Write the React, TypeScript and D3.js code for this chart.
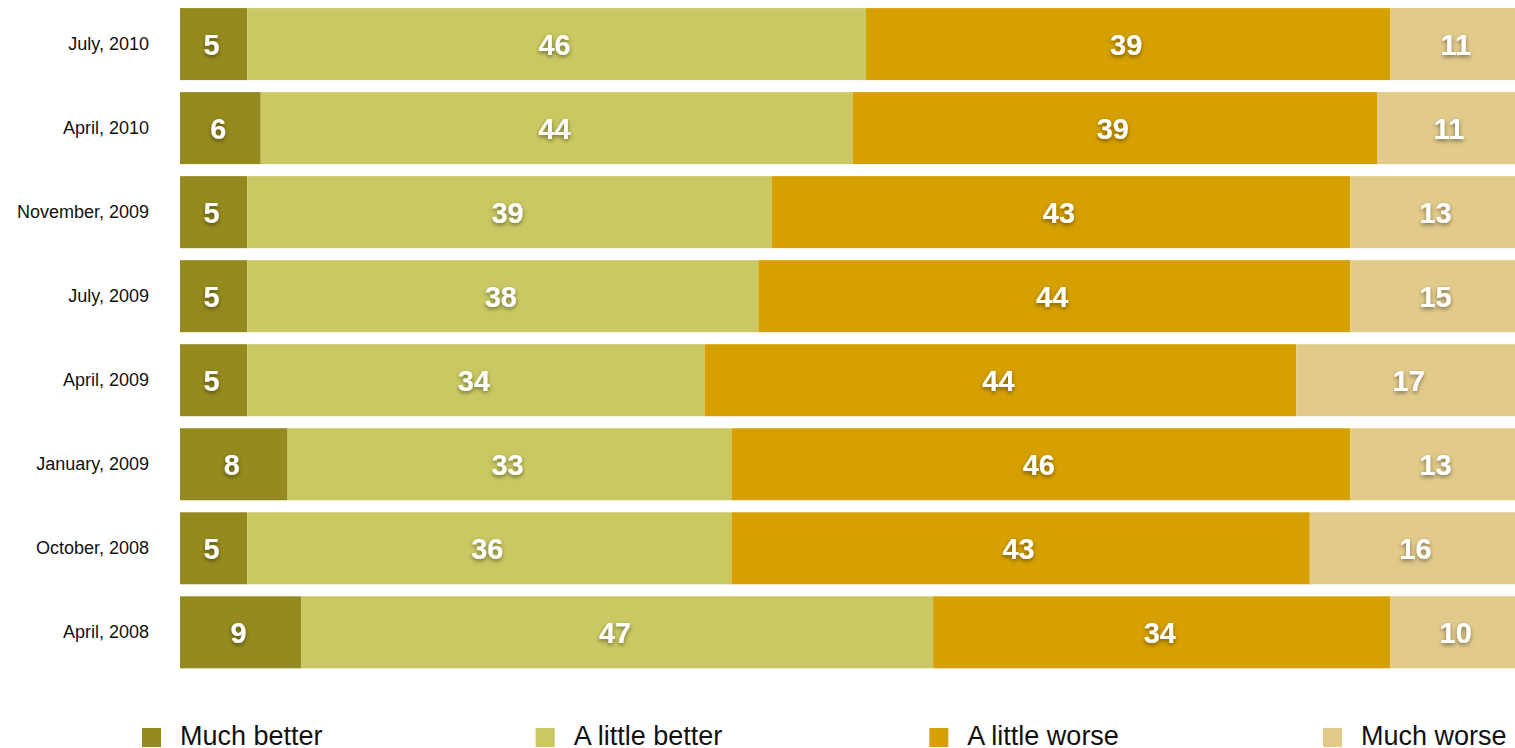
import React from "react";
import * as d3 from "d3";

const categories = ["July, 2010", "April, 2010", "November, 2009", "July, 2009", "April, 2009", "January, 2009", "October, 2008", "April, 2008"];
const seriesNames = ["Much better", "A little better", "A little worse", "Much worse"];
const muchBetter = [5, 6, 5, 5, 5, 8, 5, 9];
const littleBetter = [46, 44, 39, 38, 34, 33, 36, 47];
const littleWorse = [39, 39, 43, 44, 44, 46, 43, 34];
const muchWorse = [11, 11, 13, 15, 17, 13, 16, 10];
const colors = ["#958a1e", "#c9c862", "#d6a000", "#e2ca8b"];

const W = 1515;
const H = 748;
const x0 = 180;
const xMaxPx = 1525;

export default function App() {
  const series = [muchBetter, littleBetter, littleWorse, muchWorse];
  const x = d3.scaleLinear().domain([0, 100]).range([x0, xMaxPx]);
  const y = d3.scaleBand().domain(categories).range([2.2, 674.2]).paddingInner(0.143).paddingOuter(0.07);
  const legendX = d3.scalePoint().domain(seriesNames).range([142, 1323]);

  const rows = categories.map((c, i) => {
    let acc = 0;
    return series.map((s, k) => {
      const a = acc;
      acc += s[i];
      return { k, v: s[i], a, b: acc };
    });
  });

  return (
    <svg width={W} height={H} style={{ position: "absolute", left: 0, top: 0, fontFamily: "'Liberation Sans', Arial, Helvetica, sans-serif" }}>
      <defs>
        <filter id="ts" x="-30%" y="-30%" width="160%" height="180%">
          <feDropShadow dx="0" dy="2" stdDeviation="2.2" floodColor="#000" floodOpacity="0.45" />
        </filter>
      </defs>
      {categories.map((c, i) => {
        const yy = y(c)!;
        const bh = y.bandwidth();
        return (
          <g key={c}>
            <text x={149} y={yy + bh / 2} textAnchor="end" dominantBaseline="central" fontSize={18} fill="#111">{c}</text>
            {rows[i].map((seg) => {
              const xa = x(seg.a);
              const xb = Math.min(x(seg.b), xMaxPx);
              return (
                <g key={seg.k}>
                  <rect x={xa} y={yy} width={Math.max(0, xb - xa)} height={bh} fill={colors[seg.k]} />
                  <text x={(xa + xb) / 2 - 2} y={yy + bh / 2 + 1} textAnchor="middle" dominantBaseline="central" fontSize={29} fontWeight="bold" fill="#fff" filter="url(#ts)">{seg.v}</text>
                </g>
              );
            })}
          </g>
        );
      })}
      {seriesNames.map((n, k) => {
        const lx = legendX(n)!;
        return (
          <g key={n}>
            <rect x={lx} y={728} width={19} height={19} fill={colors[k]} />
            <text x={lx + 38} y={745} fontSize={27} fill="#111">{n}</text>
          </g>
        );
      })}
    </svg>
  );
}
